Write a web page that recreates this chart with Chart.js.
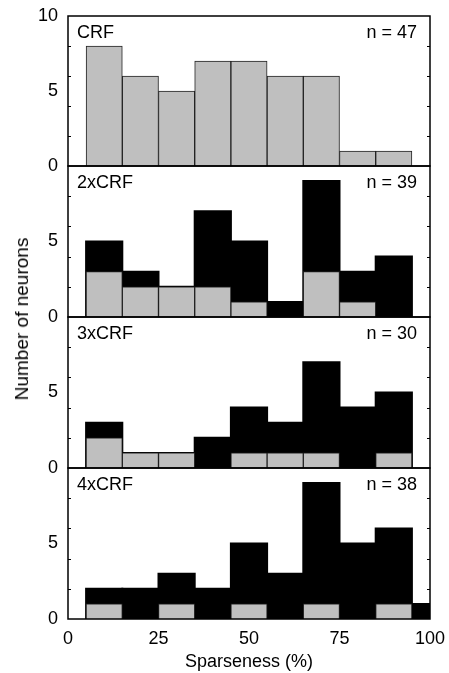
<!DOCTYPE html>
<html>
<head>
<meta charset="utf-8">
<script src="https://cdn.jsdelivr.net/npm/chart.js@4"></script>
<style>
    html, body { margin: 0; padding: 0; background: #fff; }
    #wrap { position: relative; width: 449px; height: 673px; overflow: hidden; }
    #wrap canvas { position: absolute; left: 0; }
    #yTitle {
        position: absolute; left: 22px; top: 319px;
        transform: translate(-50%, -50%) rotate(-90deg);
        white-space: nowrap;
        font: 19px "Liberation Sans", Arial, sans-serif; color: #000;
    }
</style>
</head>
<body>
<div id="wrap">
    <canvas id="p1"></canvas>
    <canvas id="p2"></canvas>
    <canvas id="p3"></canvas>
    <canvas id="p4"></canvas>
    <div id="yTitle">Number of neurons</div>
</div>
<script>
// bin centres (bins are 10 % wide, 5-15, 15-25, ...)
const binCenters = [10, 20, 30, 40, 50, 60, 70, 80, 90, 100];

const panelNames = ['CRF', '2xCRF', '3xCRF', '4xCRF'];
const panelN = [47, 39, 30, 38];

// total counts per bin (black for 2x-4x)
const crf2Total = [5, 3, 2, 7, 5, 1, 9, 3, 4];
const crf3Total = [3, 1, 1, 2, 4, 3, 7, 4, 5];
const crf4Total = [2, 2, 3, 2, 5, 3, 9, 5, 6, 1];

// gray part of each bin
const crfGray = [8, 6, 5, 7, 7, 6, 6, 1, 1];
const crf2Gray = [3, 2, 2, 2, 1, 0, 3, 1, 0];
const crf3Gray = [2, 1, 1, 0, 1, 1, 1, 0, 1];
const crf4Gray = [1, 0, 1, 0, 1, 0, 1, 0, 1, 0];

const xTicks = [0, 25, 50, 75, 100];
const yTickLabels = [0, 5, 10];
const yMinorTicks = [2, 4, 6, 8];

const FONT = '"Liberation Sans", Arial, sans-serif';

const panels = [
    { id: 'p1', total: null, gray: crfGray },
    { id: 'p2', total: crf2Total, gray: crf2Gray },
    { id: 'p3', total: crf3Total, gray: crf3Gray },
    { id: 'p4', total: crf4Total, gray: crf4Gray }
];

const plotTop = [16, 166, 317, 468];
const plotH = [150, 151, 151, 151];
const PAD = 12;
const X_AXIS_H = 54;

const toPoints = arr => arr.map((v, i) => ({ x: binCenters[i], y: v === 0 ? null : v }));

// drop the extra room chart.js keeps for overflowing tick labels
const noScalePadding = s => {
    s.paddingLeft = 0; s.paddingRight = 0;
    s.paddingTop = 0; s.paddingBottom = 0;
};

const framePlugin = {
    id: 'frame',
    afterDraw(chart) {
        const { ctx, chartArea: a, scales } = chart;
        const idx = chart.options.plugins.frame.index;
        ctx.save();
        ctx.strokeStyle = '#000';
        ctx.lineWidth = 1.5;
        ctx.strokeRect(a.left, a.top, a.right - a.left, a.bottom - a.top);

        ctx.lineWidth = 1;
        yMinorTicks.forEach(v => {
            const y = Math.round(scales.y.getPixelForValue(v)) + 0.5;
            ctx.beginPath();
            ctx.moveTo(a.left, y); ctx.lineTo(a.left + 3, y);
            ctx.moveTo(a.right, y); ctx.lineTo(a.right - 3, y);
            ctx.stroke();
        });

        ctx.fillStyle = '#000';
        ctx.font = '18px ' + FONT;
        ctx.textBaseline = 'alphabetic';
        ctx.textAlign = 'left';
        ctx.fillText(panelNames[idx], a.left + 9, a.top + 22);
        ctx.textAlign = 'right';
        ctx.fillText('n = ' + panelN[idx], a.right - 13, a.top + 22);
        ctx.restore();
    }
};

panels.forEach((p, idx) => {
    const canvas = document.getElementById(p.id);
    const isLast = idx === panels.length - 1;
    const h = PAD + plotH[idx] + (isLast ? X_AXIS_H : PAD);
    canvas.width = 449;
    canvas.height = h;
    canvas.style.top = (plotTop[idx] - PAD) + 'px';

    const datasets = [{
        data: toPoints(p.gray),
        backgroundColor: '#bfbfbf',
        borderColor: '#222',
        borderWidth: 1,
        order: 0
    }];
    if (p.total) {
        datasets.push({
            data: toPoints(p.total),
            backgroundColor: '#000',
            borderWidth: 0,
            inflateAmount: 1,
            order: 1
        });
    }
    datasets.forEach(d => {
        d.barPercentage = 1;
        d.categoryPercentage = 1;
        d.grouped = false;
        d.clip = 0;
    });

    new Chart(canvas, {
        type: 'bar',
        data: { datasets },
        options: {
            responsive: false,
            maintainAspectRatio: false,
            animation: false,
            layout: { padding: { left: 0, right: 19, top: PAD, bottom: isLast ? 0 : PAD } },
            plugins: {
                legend: { display: false },
                tooltip: { enabled: false },
                frame: { index: idx }
            },
            scales: {
                x: {
                    type: 'linear',
                    min: 0,
                    max: 100,
                    offset: false,
                    display: isLast,
                    afterBuildTicks: s => { s.ticks = xTicks.map(v => ({ value: v })); },
                    afterFit: s => {
                        noScalePadding(s);
                        if (isLast) s.height = X_AXIS_H;
                    },
                    grid: { display: false, drawTicks: false },
                    border: { display: false },
                    ticks: { color: '#000', padding: 9, maxRotation: 0, font: { size: 18, family: FONT } },
                    title: {
                        display: true,
                        text: 'Sparseness (%)',
                        color: '#000',
                        padding: { top: 0, bottom: 0 },
                        font: { size: 18, family: FONT }
                    }
                },
                y: {
                    min: 0,
                    max: 10,
                    afterBuildTicks: s => { s.ticks = yTickLabels.map(v => ({ value: v })); },
                    afterFit: s => {
                        noScalePadding(s);
                        s.width = 68;
                    },
                    grid: { display: false, drawTicks: false },
                    border: { display: false },
                    ticks: {
                        color: '#000',
                        padding: 10,
                        font: { size: 18, family: FONT },
                        callback: v => (v === 10 && idx > 0) ? '' : v
                    }
                }
            }
        },
        plugins: [framePlugin]
    });
});
</script>
</body>
</html>
